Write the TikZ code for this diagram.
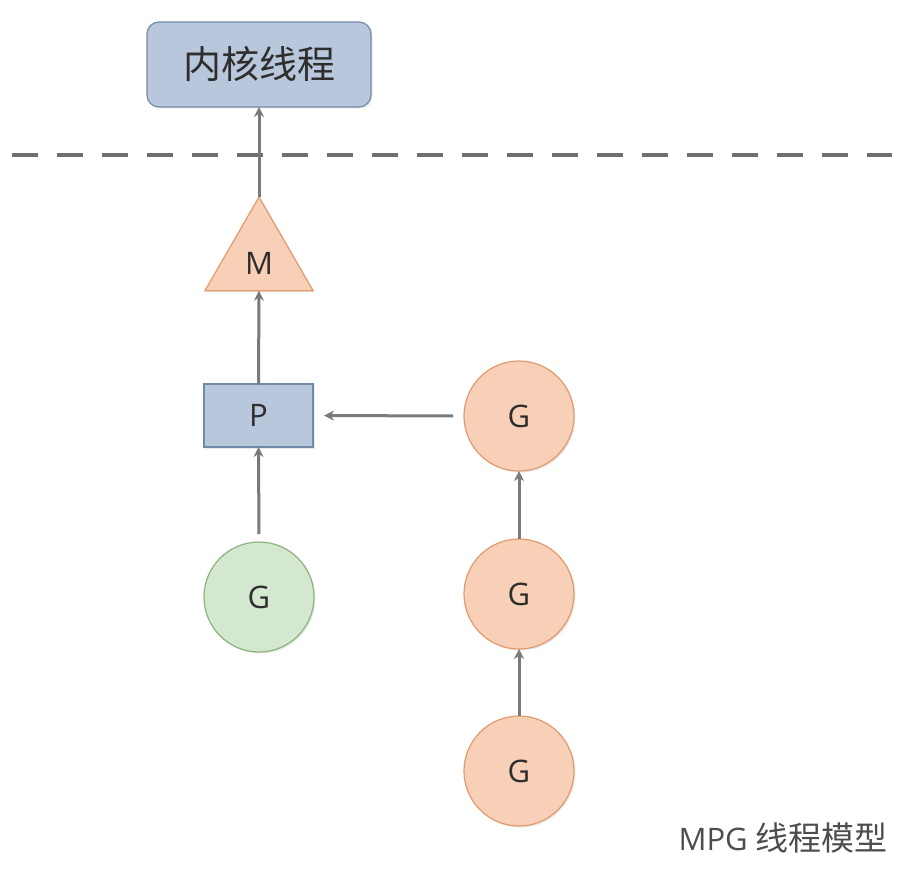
\documentclass[tikz,border=0pt]{standalone}
\usepackage{fontspec}
\setmainfont{Open Sans}
\newfontfamily\cjk{Noto Sans CJK SC}
\usetikzlibrary{arrows.meta,shapes.geometric,shadows}
\definecolor{boxfill}{HTML}{B9C7DC}
\definecolor{boxdraw}{HTML}{7389A8}
\definecolor{orfill}{HTML}{F7D0B7}
\definecolor{ordraw}{HTML}{E29A6C}
\definecolor{grfill}{HTML}{D4E7CF}
\definecolor{grdraw}{HTML}{8DB37F}
\definecolor{txt}{HTML}{2E2E2E}
\definecolor{arr}{HTML}{7A7A7A}
\definecolor{dashc}{HTML}{6E6E6E}
\tikzset{
  shd/.style={drop shadow={opacity=0.18,shadow xshift=1.5pt,shadow yshift=-1.5pt}},
  lbl/.style={font=\fontsize{31}{36}\selectfont},
  bluebox/.style={draw=boxdraw,fill=boxfill,line width=1.2pt,text=txt,outer sep=0pt,shd},
  gcirc/.style={circle,draw=ordraw,fill=orfill,line width=1.2pt,minimum size=110pt,inner sep=0pt,outer sep=0pt,text=txt,lbl,shd},
  ggreen/.style={gcirc,draw=grdraw,fill=grfill},
  conn/.style={draw=arr,line width=3pt,-{Stealth[length=10pt,width=10pt]}},
}
\begin{document}
\begin{tikzpicture}[x=1pt,y=-1pt]
\useasboundingbox (0,0) rectangle (904,888);
% top box
\node[bluebox,rounded corners=12pt,minimum width=224pt,minimum height=85pt,font=\cjk\fontsize{38}{42}\selectfont] (kt) at (259,64.5) {内核线程};
% dashed line
\draw[dashc,line width=4.5pt,dash pattern=on 26pt off 19pt] (12,155) -- (892,155);
% M triangle
\node[regular polygon,regular polygon sides=3,minimum size=125pt,inner sep=0pt,outer sep=0pt,draw=ordraw,fill=orfill,line width=1.2pt,shd] (m) at (259,259.5) {};
\node[text=txt,lbl] (mlabel) at (259,263) {M};
% P box
\node[bluebox,minimum width=109pt,minimum height=63pt,lbl] (p) at (258.5,415.5) {P};
% G nodes
\node[ggreen] (g0) at (259,597) {G};
\node[gcirc] (g1) at (519,416) {G};
\node[gcirc] (g2) at (519,594) {G};
\node[gcirc] (g3) at (519,771) {G};
% label
\node[anchor=east,text=txt!85!white,font=\fontsize{31}{36}\selectfont,inner sep=0pt] (title) at (888,838) {MPG {\cjk\fontsize{33}{36}\selectfont 线程模型}};
% connectors
\draw[conn] (m.corner 1) -- (kt.south);
\draw[conn] (p.north) -- (m.south);
\draw[conn,shorten <=8pt] (g0.north) -- (p.south);
\draw[conn,shorten <=11pt,shorten >=11pt] (g1.west) -- (p.east);
\draw[conn] (g2.north) -- (g1.south);
\draw[conn] (g3.north) -- (g2.south);
\end{tikzpicture}
\end{document}
